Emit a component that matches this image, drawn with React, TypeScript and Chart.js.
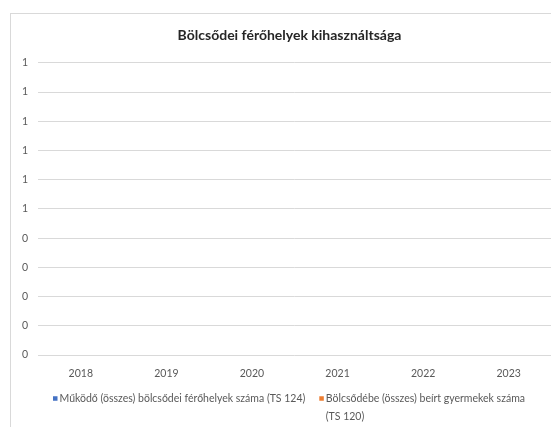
import React, { useEffect, useRef } from "react";
import { Chart, registerables } from "chart.js";

Chart.register(...registerables);

const TITLE = "Bölcsődei férőhelyek kihasználtsága";
const YEARS = ["2018", "2019", "2020", "2021", "2022", "2023"];
const SERIES_NAMES = [
  "Működő (összes) bölcsődei férőhelyek száma (TS 124)",
  "Bölcsődébe (összes) beírt gyermekek száma (TS 120)",
];
// No values are shown in the reference chart (empty series)
const PLACES: (number | null)[] = [null, null, null, null, null, null];
const ENROLLED: (number | null)[] = [null, null, null, null, null, null];
const SERIES_COLORS = ["#4472C4", "#ED7D31"];
const Y_MIN = 0;
const Y_MAX = 1;
const Y_STEP = 0.1;

const FONT = "Lato, 'Liberation Sans', sans-serif";
const TEXT_GRAY = "#595959";
const GRID = "#d9d9d9";

const framePlugin = {
  id: "frame",
  beforeDraw(chart: any) {
    const ctx = chart.ctx;
    ctx.save();
    ctx.fillStyle = "#ffffff";
    ctx.fillRect(0, 0, chart.width, chart.height);
    ctx.strokeStyle = GRID;
    ctx.lineWidth = 1;
    ctx.strokeRect(10.5, 13.5, chart.width + 50, chart.height + 50);
    ctx.restore();
  },
};

const legendPlugin = {
  id: "wrapLegend",
  afterDraw(chart: any) {
    const ctx = chart.ctx;
    ctx.save();
    ctx.font = `10.5px ${FONT}`;
    ctx.textBaseline = "middle";
    ctx.textAlign = "left";
    const y0 = 398.5;
    const lineH = 18;
    const rightLimit = 540;
    let x = 53;
    chart.data.datasets.forEach((ds: any) => {
      ctx.fillStyle = ds.backgroundColor;
      ctx.fillRect(x, y0 - 2.25, 4.5, 4.5);
      const tx = x + 6.5;
      const maxW = rightLimit - tx;
      const words = String(ds.label).split(" ");
      const lines: string[] = [];
      let cur = "";
      words.forEach((w) => {
        const test = cur ? cur + " " + w : w;
        if (ctx.measureText(test).width > maxW && cur) {
          lines.push(cur);
          cur = w;
        } else {
          cur = test;
        }
      });
      if (cur) lines.push(cur);
      ctx.fillStyle = TEXT_GRAY;
      let widest = 0;
      lines.forEach((ln, i) => {
        ctx.fillText(ln, tx, y0 + i * lineH);
        widest = Math.max(widest, ctx.measureText(ln).width);
      });
      x = tx + widest + 14;
    });
    ctx.restore();
  },
};

export default function App() {
  const ref = useRef<HTMLCanvasElement | null>(null);

  useEffect(() => {
    if (!ref.current) return;
    const chart = new Chart(ref.current, {
      type: "bar",
      data: {
        labels: YEARS,
        datasets: [
          { label: SERIES_NAMES[0], data: PLACES, backgroundColor: SERIES_COLORS[0] },
          { label: SERIES_NAMES[1], data: ENROLLED, backgroundColor: SERIES_COLORS[1] },
        ],
      },
      options: {
        animation: false,
        responsive: false,
        devicePixelRatio: 1,
        layout: { padding: { left: 0, right: 0, top: 0, bottom: 42 } },
        plugins: {
          legend: { display: false },
          tooltip: { enabled: false },
          title: {
            display: true,
            text: TITLE,
            color: "#262626",
            font: { family: FONT, size: 14, weight: "bold" },
            padding: { top: 27, bottom: 19 },
          },
        },
        scales: {
          x: {
            grid: { display: false },
            border: { display: false },
            ticks: { color: TEXT_GRAY, font: { family: FONT, size: 10.5 }, padding: 4 },
            afterFit: (s: any) => {
              s.height = 30;
            },
          },
          y: {
            min: Y_MIN,
            max: Y_MAX,
            grid: { color: GRID, drawTicks: false },
            border: { display: false },
            ticks: {
              stepSize: Y_STEP,
              color: TEXT_GRAY,
              font: { family: FONT, size: 10.5 },
              padding: 10,
              callback: (v: any) => String(Math.round(Number(v))),
            },
            afterFit: (s: any) => {
              s.width = 38;
            },
          },
          yRight: {
            position: "right",
            display: true,
            grid: { display: false },
            border: { display: false },
            ticks: { display: false },
            afterFit: (s: any) => {
              s.width = 27.5;
            },
          },
        },
      },
      plugins: [framePlugin, legendPlugin],
    });
    return () => chart.destroy();
  }, []);

  return (
    <div
      style={{
        position: "absolute",
        left: 0,
        top: 0,
        width: 551,
        height: 427,
        overflow: "hidden",
        background: "#fff",
      }}
    >
      <canvas ref={ref} width={579} height={427} style={{ display: "block", width: 579, height: 427 }} />
    </div>
  );
}
